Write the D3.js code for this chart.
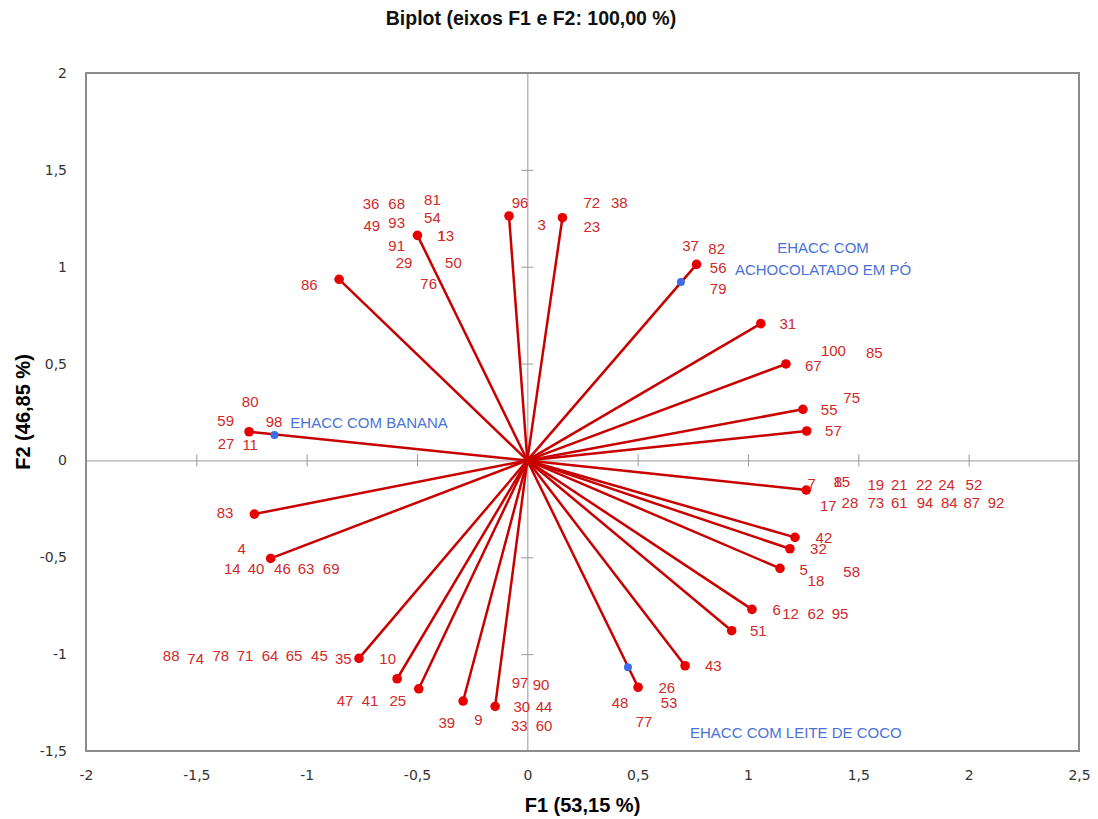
<!DOCTYPE html>
<html>
<head>
<meta charset="utf-8">
<script src="https://d3js.org/d3.v7.min.js"></script>
<style>
  body { margin: 0; background: #fff; }
  text { font-family: "Liberation Sans", Arial, sans-serif; }
</style>
</head>
<body>
<div id="chart-area"></div>
<script>

// Variable vectors (F1, F2), red
var vecX = [-1.261, -0.853, -0.498, -0.083, 0.159, 0.767, 1.058, 1.172, 1.249, 1.266,
            1.264, 1.213, 1.190, 1.145, 1.018, 0.926, 0.715, 0.502, -0.146, -0.291,
            -0.492, -0.590, -0.763, -1.237, -1.163];
var vecY = [0.148, 0.935, 1.162, 1.262, 1.253, 1.012, 0.706, 0.498, 0.264, 0.152,
            -0.153, -0.397, -0.456, -0.557, -0.769, -0.879, -1.060, -1.171, -1.270, -1.242,
            -1.179, -1.127, -1.022, -0.277, -0.506];

// Observations, blue
var obsNames = ["EHACC COM BANANA", "EHACC COM ACHOCOLATADO EM PÓ", "EHACC COM LEITE DE COCO"];
var obsX = [-1.146, 0.696, 0.456];
var obsY = [0.131, 0.921, -1.068];
var obsLines = [["EHACC COM BANANA"], ["EHACC COM", "ACHOCOLATADO EM PÓ"], ["EHACC COM LEITE DE COCO"]];
var obsLabelX = [-0.717, 1.340, 1.217];
var obsLabelY = [0.195, 1.100, -1.406];

// Panelist labels (number, position in F1/F2 units)
var labNames = ["36","68","81","49","93","54","13","1","91","29","50","76","86",
                "96","3","72","38","23","37","82","56","79",
                "31","100","85","67","75","55","57",
                "80","59","98","27","11",
                "7","15","8","19","21","22","24","52","17","28","73","61","94","84","87","92",
                "42","32","5","18","58","6","12","62","95",
                "83","4","14","40","46","63","69",
                "88","74","78","71","64","65","45","35","10","47","41","25","39","9",
                "97","90","30","44","33","60","51","43","26","48","53","77"];
var labX = [-0.708,-0.592,-0.430,-0.705,-0.592,-0.430,-0.370,-0.388,-0.592,-0.559,-0.335,-0.447,-0.988,
            -0.033,0.065,0.292,0.417,0.292,0.740,0.858,0.865,0.865,
            1.180,1.387,1.572,1.296,1.470,1.368,1.387,
            -1.256,-1.367,-1.148,-1.365,-1.256,
            1.289,1.425,1.408,1.579,1.686,1.799,1.900,2.024,1.364,1.462,1.579,1.686,1.802,1.912,2.014,2.124,
            1.344,1.319,1.252,1.308,1.470,1.130,1.193,1.308,1.417,
            -1.370,-1.294,-1.337,-1.229,-1.110,-1.003,-0.889,
            -1.614,-1.503,-1.389,-1.279,-1.166,-1.057,-0.942,-0.834,-0.633,-0.826,-0.713,-0.587,-0.365,-0.222,
            -0.033,0.062,-0.025,0.076,-0.036,0.076,1.047,0.843,0.632,0.420,0.642,0.529];
var labY = [1.324,1.324,1.348,1.212,1.227,1.251,1.160,1.160,1.108,1.023,1.023,0.914,0.907,
            1.332,1.219,1.330,1.330,1.207,1.107,1.095,0.997,0.888,
            0.704,0.566,0.556,0.489,0.326,0.264,0.152,
            0.303,0.205,0.200,0.088,0.080,
            -0.118,-0.110,-0.110,-0.123,-0.123,-0.123,-0.123,-0.123,-0.235,-0.221,-0.221,-0.221,-0.221,-0.221,-0.221,-0.221,
            -0.397,-0.457,-0.562,-0.623,-0.575,-0.769,-0.793,-0.793,-0.793,
            -0.270,-0.457,-0.561,-0.561,-0.561,-0.561,-0.561,
            -1.009,-1.022,-1.009,-1.009,-1.009,-1.009,-1.009,-1.022,-1.022,-1.242,-1.242,-1.242,-1.354,-1.340,
            -1.148,-1.156,-1.272,-1.272,-1.370,-1.370,-0.881,-1.061,-1.173,-1.251,-1.251,-1.349];

var xTicks = [-2, -1.5, -1, -0.5, 0, 0.5, 1, 1.5, 2, 2.5];
var yTicks = [-1.5, -1, -0.5, 0, 0.5, 1, 1.5, 2];

var margin = { left: 86, right: 19, top: 73, bottom: 68 };
var width = 1098 - margin.left - margin.right,
    height = 819 - margin.top - margin.bottom;

var svg = d3.select("#chart-area")
    .append("svg")
        .attr("width", 1098)
        .attr("height", 819);

var g = svg.append("g")
    .attr("transform", "translate(" + margin.left + "," + margin.top + ")");

var x = d3.scaleLinear().domain([-2, 2.5]).range([0, width]);
var y = d3.scaleLinear().domain([-1.5, 2]).range([height, 0]);

var fmt = function(d) { return String(d).replace(".", ","); };

// Title
svg.append("text")
    .attr("x", 531)
    .attr("y", 25)
    .attr("text-anchor", "middle")
    .attr("font-size", "19.5px")
    .attr("font-weight", "bold")
    .attr("fill", "#111")
    .text("Biplot (eixos F1 e F2: 100,00 %)");

// X Axis labels
var xAxisCall = d3.axisBottom(x).tickValues(xTicks).tickSize(0).tickPadding(19).tickFormat(fmt);
var xAxis = g.append("g")
    .attr("transform", "translate(0," + height + ")")
    .call(xAxisCall);
xAxis.select(".domain").remove();
xAxis.selectAll("text").attr("font-size", "14px").attr("fill", "#333")
    .style("font-family", "DejaVu Sans");

// Y Axis labels
var yAxisCall = d3.axisLeft(y).tickValues(yTicks).tickSize(0).tickPadding(19).tickFormat(fmt);
var yAxis = g.append("g").call(yAxisCall);
yAxis.select(".domain").remove();
yAxis.selectAll("text").attr("font-size", "14px").attr("fill", "#333")
    .style("font-family", "DejaVu Sans");

// Axis titles
svg.append("text")
    .attr("x", margin.left + width / 2)
    .attr("y", 812)
    .attr("text-anchor", "middle")
    .attr("font-size", "20px")
    .attr("font-weight", "bold")
    .text("F1 (53,15 %)");

svg.append("text")
    .attr("transform", "translate(30," + (margin.top + y(0.25)) + ") rotate(-90)")
    .attr("text-anchor", "middle")
    .attr("font-size", "20px")
    .attr("font-weight", "bold")
    .text("F2 (46,85 %)");

// zero lines with crossing ticks
var xZero = g.append("g")
    .attr("transform", "translate(0," + y(0) + ")")
    .call(d3.axisBottom(x).tickValues(xTicks).tickSizeInner(6).tickSizeOuter(0).tickFormat(""));
xZero.selectAll(".tick line").attr("y1", -6).attr("stroke", "#999");
xZero.select(".domain").attr("stroke", "#999");

var yZero = g.append("g")
    .attr("transform", "translate(" + x(0) + ",0)")
    .call(d3.axisLeft(y).tickValues(yTicks).tickSizeInner(6).tickSizeOuter(0).tickFormat(""));
yZero.selectAll(".tick line").attr("x1", 6).attr("stroke", "#999");
yZero.select(".domain").attr("stroke", "#999");

// vectors
var vec = vecX.map(function(d, i) { return { x: d, y: vecY[i] }; });

g.selectAll("line.vec")
    .data(vec)
    .enter().append("line")
        .attr("class", "vec")
        .attr("x1", x(0))
        .attr("y1", y(0))
        .attr("x2", function(d) { return x(d.x); })
        .attr("y2", function(d) { return y(d.y); })
        .attr("stroke", "#c80000")
        .attr("stroke-width", 2.5);

g.selectAll("circle.vec")
    .data(vec)
    .enter().append("circle")
        .attr("class", "vec")
        .attr("cx", function(d) { return x(d.x); })
        .attr("cy", function(d) { return y(d.y); })
        .attr("r", 4.8)
        .attr("fill", "#e60000");

// panelist numbers
g.selectAll("text.lab")
    .data(labNames)
    .enter().append("text")
        .attr("class", "lab")
        .attr("x", function(d, i) { return x(labX[i]); })
        .attr("y", function(d, i) { return y(labY[i]); })
        .attr("dy", "0.35em")
        .attr("text-anchor", "middle")
        .attr("font-size", "15px")
        .attr("fill", "#d02a2a")
        .text(function(d) { return d; });

// observations
g.selectAll("circle.obs")
    .data(obsNames)
    .enter().append("circle")
        .attr("class", "obs")
        .attr("cx", function(d, i) { return x(obsX[i]); })
        .attr("cy", function(d, i) { return y(obsY[i]); })
        .attr("r", 4)
        .attr("fill", "#3a6de6");

obsNames.forEach(function(name, i) {
    obsLines[i].forEach(function(line, j) {
        g.append("text")
            .attr("x", x(obsLabelX[i]))
            .attr("y", y(obsLabelY[i]) + j * 22)
            .attr("dy", "0.35em")
            .attr("text-anchor", "middle")
            .attr("font-size", "15px")
            .attr("fill", "#4a72d4")
            .text(line);
    });
});

// frame
g.append("rect")
    .attr("width", width)
    .attr("height", height)
    .attr("fill", "none")
    .attr("stroke", "#8c8c8c")
    .attr("stroke-width", 2);

</script>
</body>
</html>
